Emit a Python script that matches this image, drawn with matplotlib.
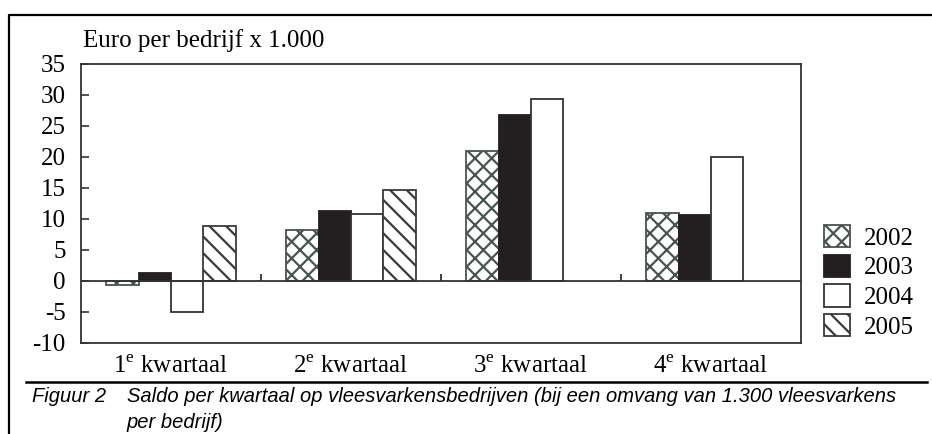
import numpy as np
import matplotlib.pyplot as plt
from matplotlib.lines import Line2D
from matplotlib.patches import Patch

plt.rcParams['font.family'] = ['Liberation Serif', 'DejaVu Serif']
plt.rcParams['mathtext.fontset'] = 'custom'
plt.rcParams['mathtext.rm'] = 'Liberation Serif'
plt.rcParams['axes.unicode_minus'] = False
plt.rcParams['hatch.linewidth'] = 1.6

quarters = ['1$^{\\mathrm{e}}$ kwartaal', '2$^{\\mathrm{e}}$ kwartaal',
            '3$^{\\mathrm{e}}$ kwartaal', '4$^{\\mathrm{e}}$ kwartaal']
years = ['2002', '2003', '2004', '2005']
v2002 = [-0.7, 8.3, 21.0, 11.0]
v2003 = [1.3, 11.3, 26.7, 10.7]
v2004 = [-5.0, 10.8, 29.3, 20.0]
v2005 = [8.8, 14.7, np.nan, np.nan]
yticks = [-10, -5, 0, 5, 10, 15, 20, 25, 30, 35]

ylabel = 'Euro per bedrijf x 1.000'
caption_no = 'Figuur 2'
caption = ['Saldo per kwartaal op vleesvarkensbedrijven (bij een omvang van 1.300 vleesvarkens',
           'per bedrijf)']

styles = [
    dict(facecolor='white', hatch='xx', edgecolor='#4a5252'),
    dict(facecolor='#231f20', hatch=None, edgecolor='#231f20'),
    dict(facecolor='white', hatch=None, edgecolor='#333333'),
    dict(facecolor='white', hatch='\\\\', edgecolor='#3a3a3a'),
]

fig = plt.figure(figsize=(9.32, 4.34), dpi=100)
ax = fig.add_axes([0.0869, 0.2097, 0.7725, 0.6429])

x = np.arange(len(quarters))
w = 0.18
series = [v2002, v2003, v2004, v2005]
handles = []
for i, (vals, st) in enumerate(zip(series, styles)):
    ax.bar(x + (i - 1.5) * w, vals, w, linewidth=1.3, **st)
    handles.append(Patch(linewidth=1.3, **st))

ax.axhline(0, color='#333333', lw=1.3, zorder=3)
ax.vlines(x[:-1] + 0.5, 0, 1.1, color='#333333', lw=1.3)

ax.set_xlim(-0.5, len(quarters) - 0.5)
ax.set_ylim(-10, 35)
ax.set_yticks(yticks)
ax.set_xticks(x)
ax.set_xticklabels(quarters)
ax.tick_params(axis='y', direction='in', length=6, width=1.2, pad=11,
               labelsize=18, color='#333333')
ax.tick_params(axis='x', length=0, pad=9, labelsize=18)
for s in ax.spines.values():
    s.set_linewidth(1.3)
    s.set_color('#333333')

fig.text(0.089, 0.907, ylabel, fontsize=18, va='center', ha='left')

fig.legend(handles, years, loc='upper left', bbox_to_anchor=(0.884, 0.482),
           frameon=False, fontsize=18, handlelength=1.05, handleheight=1.0,
           handletextpad=0.55, labelspacing=0.2, borderpad=0, borderaxespad=0)

# frame and caption
fig.add_artist(Line2D([9 / 932, 9 / 932, 1], [0, 1 - 15 / 434, 1 - 15 / 434],
                      color='black', lw=1.6, transform=fig.transFigure))
fig.add_artist(Line2D([26 / 932, 927 / 932], [1 - 382 / 434, 1 - 382 / 434],
                      color='black', lw=1.8, transform=fig.transFigure))
cap_font = ['Liberation Sans Narrow', 'Liberation Sans', 'DejaVu Sans']
fig.text(32 / 932, 1 - 396 / 434, caption_no, family=cap_font, style='italic',
         fontsize=14.5, va='center')
fig.text(127 / 932, 1 - 396 / 434, caption[0], family=cap_font, style='italic',
         fontsize=14.5, va='center')
fig.text(127 / 932, 1 - 423 / 434, caption[1], family=cap_font, style='italic',
         fontsize=14.5, va='center')

fig.savefig('out.png', dpi=100)
